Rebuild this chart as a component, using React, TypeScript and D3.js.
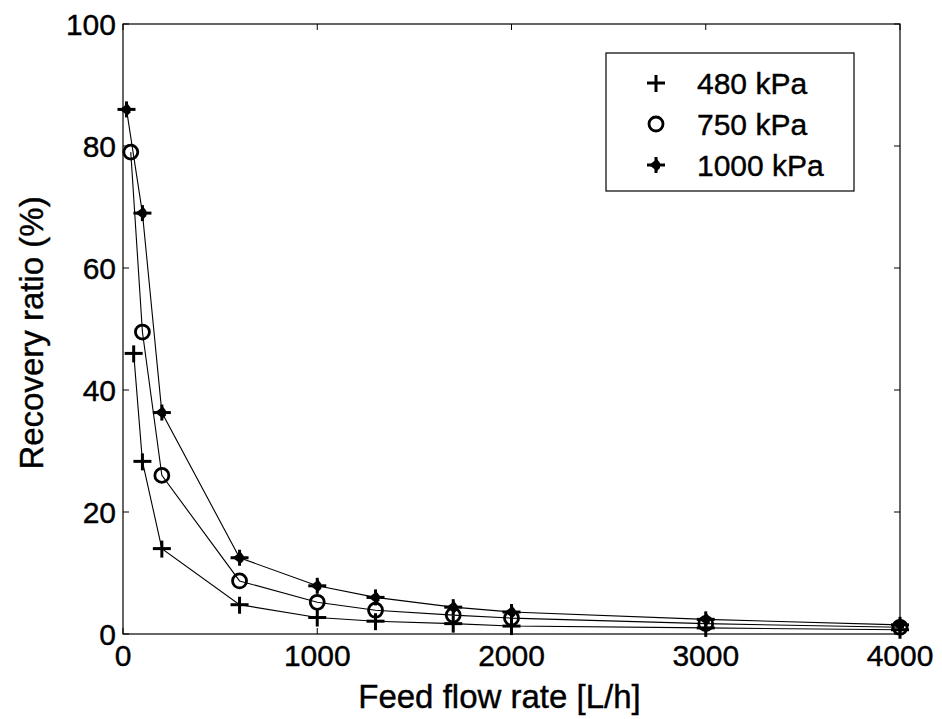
import React from "react";
import * as d3 from "d3";

const flow480 = [55, 100, 200, 600, 1000, 1300, 1700, 2000, 3000, 4000];
const rec480 = [46, 28.3, 14, 4.8, 2.7, 2.1, 1.7, 1.3, 1.0, 0.7];
const flow750 = [40, 100, 200, 600, 1000, 1300, 1700, 2000, 3000, 4000];
const rec750 = [79, 49.5, 26, 8.7, 5.2, 3.9, 3.1, 2.6, 1.7, 1.1];
const flow1000 = [18, 100, 200, 600, 1000, 1300, 1700, 2000, 3000, 4000];
const rec1000 = [86, 69, 36.3, 12.5, 7.9, 6.0, 4.4, 3.6, 2.4, 1.5];
const xTicks = [0, 1000, 2000, 3000, 4000];
const yTicks = [0, 20, 40, 60, 80, 100];
const legendLabels = ["480 kPa", "750 kPa", "1000 kPa"];

const W = 942, H = 719;
const L = 123, R = 900, T = 24, B = 634;
const FONT = "'Liberation Sans', Arial, sans-serif";

function Plus({ x, y }: { x: number; y: number }) {
  return (
    <g transform={`translate(${x},${y})`} stroke="#000" strokeWidth={3}>
      <line x1={-9} x2={9} y1={0} y2={0} />
      <line x1={0} x2={0} y1={-8} y2={9} />
    </g>
  );
}
function Circ({ x, y }: { x: number; y: number }) {
  return <circle cx={x} cy={y} r={7} fill="none" stroke="#000" strokeWidth={2.8} />;
}
function Star({ x, y }: { x: number; y: number }) {
  return (
    <g transform={`translate(${x},${y})`}>
      <g stroke="#000" strokeWidth={3}>
        <line x1={-9} x2={9} y1={0} y2={0} />
        <line x1={0} x2={0} y1={-8} y2={8} />
      </g>
      <path d="M-7,0 L1,-6 L4,-2 L4,3 L1,6 Z" fill="#000" />
    </g>
  );
}

export default function App() {
  const x = d3.scaleLinear().domain([0, 4000]).range([L, R]);
  const y = d3.scaleLinear().domain([0, 100]).range([B, T]);
  const line = d3.line<[number, number]>().x((d) => x(d[0])).y((d) => y(d[1]));
  const series = [
    { xs: flow480, ys: rec480, M: Plus },
    { xs: flow750, ys: rec750, M: Circ },
    { xs: flow1000, ys: rec1000, M: Star },
  ];
  const tl = 6;
  return (
    <svg width={W} height={H} style={{ position: "absolute", left: 0, top: 0, background: "#fff" }}>
      <rect x={0} y={0} width={W} height={H} fill="#fff" />
      <rect x={L} y={T} width={R - L} height={B - T} fill="none" stroke="#000" strokeWidth={1.2} />
      {xTicks.map((t) => (
        <g key={"xt" + t}>
          <line x1={x(t)} x2={x(t)} y1={B} y2={B - tl} stroke="#000" />
          <line x1={x(t)} x2={x(t)} y1={T} y2={T + tl} stroke="#000" />
          <text x={x(t)} y={B + 32} textAnchor="middle" fontFamily={FONT} fontSize={30} stroke="#000" strokeWidth={0.4}>{t}</text>
        </g>
      ))}
      {yTicks.map((t) => (
        <g key={"yt" + t}>
          <line x1={L} x2={L + tl} y1={y(t)} y2={y(t)} stroke="#000" />
          <line x1={R} x2={R - tl} y1={y(t)} y2={y(t)} stroke="#000" />
          <text x={L - 7} y={y(t) + 11} textAnchor="end" fontFamily={FONT} fontSize={30} stroke="#000" strokeWidth={0.4}>{t}</text>
        </g>
      ))}
      <text x={(L + R) / 2 - 12} y={708} textAnchor="middle" fontFamily={FONT} fontSize={33} stroke="#000" strokeWidth={0.4}>Feed flow rate [L/h]</text>
      <text transform={`translate(43,${(T + B) / 2 + 4}) rotate(-90)`} textAnchor="middle" fontFamily={FONT} fontSize={33} stroke="#000" strokeWidth={0.4}>Recovery ratio (%)</text>
      {series.map((s, i) => {
        const pts = s.xs.map((v, j) => [v, s.ys[j]] as [number, number]);
        const M = s.M;
        return (
          <g key={"s" + i}>
            <path d={line(pts) || ""} fill="none" stroke="#000" strokeWidth={1.1} />
            {pts.map((p, j) => <M key={j} x={x(p[0])} y={y(p[1])} />)}
          </g>
        );
      })}
      <rect x={606} y={53} width={248} height={138} fill="#fff" stroke="#000" strokeWidth={1.2} />
      {legendLabels.map((lab, i) => {
        const M = series[i].M;
        const cy = 83 + i * 41;
        return (
          <g key={"lg" + i}>
            <M x={656} y={cy} />
            <text x={697} y={cy + 11} fontFamily={FONT} fontSize={30} stroke="#000" strokeWidth={0.4}>{lab}</text>
          </g>
        );
      })}
    </svg>
  );
}
